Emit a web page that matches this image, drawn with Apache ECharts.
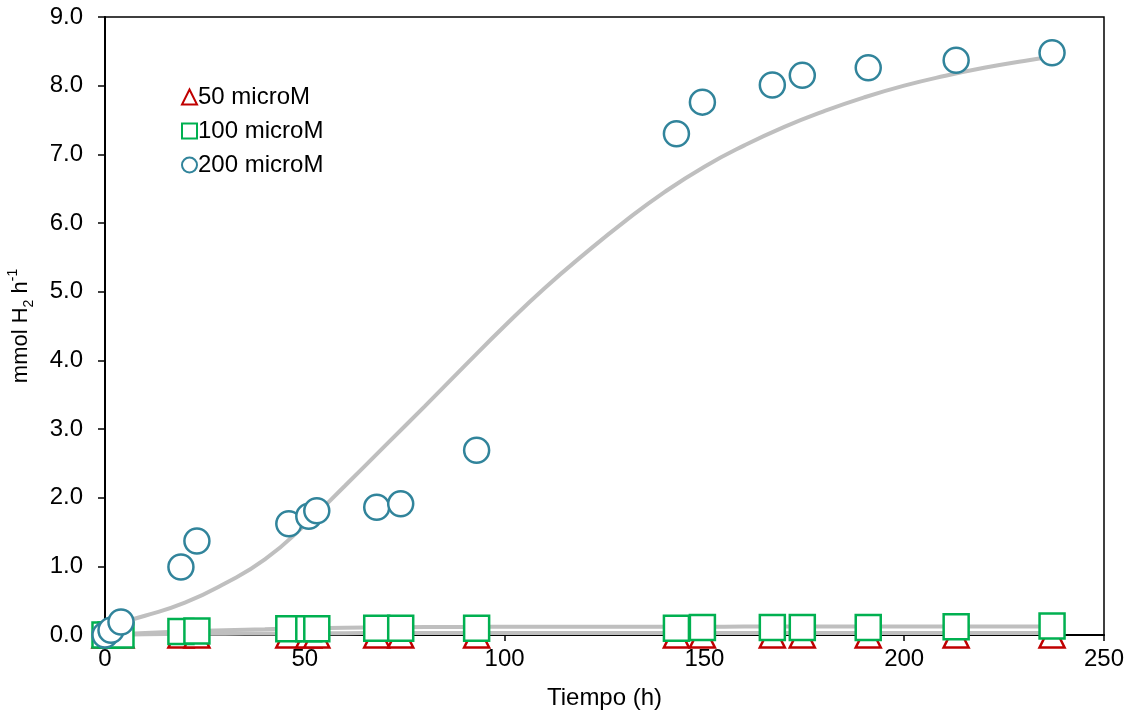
<!DOCTYPE html>
<html>
<head>
<meta charset="utf-8">
<script src="https://cdn.jsdelivr.net/npm/echarts@6/dist/echarts.min.js"></script>
<style>html,body{margin:0;padding:0;background:#fff;}#c{width:1130px;height:715px;}</style>
</head>
<body>
<div id="c"></div>
<script>
// Measured data
const time = [0, 1.5, 4, 19, 23, 46, 51, 53, 68, 74, 93, 143, 149.5, 167, 174.5, 191, 213, 237];
const m50  = [0, 0, 0, 0, 0, 0, 0, 0, 0, 0, 0, 0, 0, 0, 0, 0, 0, 0];
const m100 = [0, 0, 0, 0.05, 0.06, 0.09, 0.09, 0.09, 0.10, 0.10, 0.10, 0.10, 0.11, 0.11, 0.11, 0.11, 0.12, 0.13];
const m200 = [0, 0.07, 0.19, 0.99, 1.37, 1.62, 1.73, 1.81, 1.86, 1.91, 2.69, 7.30, 7.76, 8.01, 8.15, 8.26, 8.37, 8.48];

// Fitted curves
const fitTime = [0,10,20,30,40,50,60,70,80,90,100,110,120,130,140,150,160,170,180,190,200,210,220,230,240];
const fit50  = [0,0.01,0.015,0.02,0.022,0.025,0.027,0.028,0.029,0.03,0.03,0.03,0.03,0.03,0.03,0.03,0.03,0.03,0.03,0.03,0.03,0.03,0.03,0.03,0.03];
const fit100 = [0,0.03,0.05,0.07,0.085,0.10,0.105,0.11,0.115,0.118,0.12,0.12,0.12,0.12,0.12,0.12,0.122,0.122,0.123,0.123,0.124,0.124,0.125,0.125,0.125];
const fit200 = [0.12,0.28,0.47,0.75,1.10,1.60,2.17,2.75,3.33,3.92,4.50,5.05,5.55,6.02,6.45,6.82,7.13,7.40,7.63,7.83,8.00,8.14,8.26,8.36,8.45];

const xTicks = {min: 0, max: 250, interval: 50};
const yTicks = {min: 0, max: 9, interval: 1};

const names = ['50 microM', '100 microM', '200 microM'];
const colors = ['#C00000', '#00B050', '#31849B'];
const FONT = 'Liberation Sans, Arial, sans-serif';

const pairs = (xs, ys) => xs.map((x, i) => [x, ys[i]]);

const fitLine = (ys) => ({
  type: 'line', data: pairs(fitTime, ys), smooth: 0.5, showSymbol: false, symbol: 'none',
  clip: false, silent: true, z: 1,
  lineStyle: {color: '#BFBFBF', width: 4}
});
const scat = (i, ys, sym) => ({
  type: 'scatter', name: names[i], data: pairs(time, ys), symbol: sym, symbolSize: 25,
  clip: false, z: 3,
  itemStyle: {color: '#fff', borderColor: colors[i], borderWidth: 2.5, opacity: 1}
});

const chart = echarts.init(document.getElementById('c'), null, {renderer: 'canvas'});
chart.setOption({
  animation: false,
  backgroundColor: '#fff',
  textStyle: {fontFamily: FONT},
  grid: {left: 105, right: 26, top: 17, bottom: 80, containLabel: false, outerBoundsMode: 'none',
         show: true, borderColor: '#000', borderWidth: 1.5, backgroundColor: 'transparent'},
  legend: {
    data: names, orient: 'vertical', left: 176, top: 80, itemWidth: 15, itemHeight: 15, itemGap: 10,
    textStyle: {fontSize: 24, color: '#000', fontFamily: FONT, lineHeight: 24, padding: [0,0,0,-4]},
    itemStyle: {borderWidth: 2}
  },
  xAxis: {
    type: 'value', min: xTicks.min, max: xTicks.max, interval: xTicks.interval,
    name: 'Tiempo (h)', nameLocation: 'middle', nameGap: 51,
    nameTextStyle: {fontSize: 24, color: '#000', fontFamily: FONT},
    axisLine: {show: true, onZero: false, lineStyle: {color: '#000', width: 2}},
    axisTick: {show: true, inside: false, length: 6, lineStyle: {color: '#000', width: 1.5}},
    axisLabel: {fontSize: 24, color: '#000', margin: 12, fontFamily: FONT},
    splitLine: {show: false}
  },
  yAxis: {
    type: 'value', min: yTicks.min, max: yTicks.max, interval: yTicks.interval,
    name: '{a|mmol H}{s|2}{a| h}{p|-1}', nameLocation: 'middle', nameGap: 69, nameRotate: 90,
    nameTextStyle: {
      color: '#000', fontFamily: FONT, fontSize: 22,
      rich: {
        a: {fontSize: 22, color: '#000', fontFamily: FONT, lineHeight: 30, verticalAlign: 'middle'},
        s: {fontSize: 14, color: '#000', fontFamily: FONT, lineHeight: 30, verticalAlign: 'bottom', padding: [10,0,0,0]},
        p: {fontSize: 14, color: '#000', fontFamily: FONT, lineHeight: 30, verticalAlign: 'top', padding: [0,0,10,0]}
      }
    },
    axisLine: {show: true, lineStyle: {color: '#000', width: 2}},
    axisTick: {show: true, inside: false, length: 7, lineStyle: {color: '#000', width: 1.5}},
    axisLabel: {fontSize: 24, color: '#000', margin: 22, fontFamily: FONT, formatter: v => v.toFixed(1)},
    splitLine: {show: false}
  },
  series: [
    fitLine(fit50), fitLine(fit100), fitLine(fit200),
    scat(0, m50, 'triangle'), scat(1, m100, 'rect'), scat(2, m200, 'circle')
  ]
});
</script>
</body>
</html>
